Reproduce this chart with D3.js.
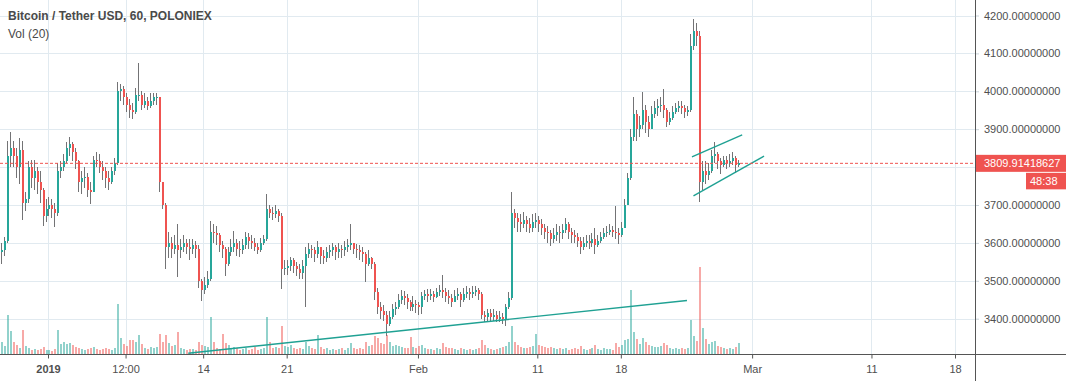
<!DOCTYPE html>
<html>
<head>
<meta charset="utf-8">
<script src="https://cdn.jsdelivr.net/npm/d3@7"></script>
<style>
body { margin: 0; background: #fff; overflow: hidden; }
svg { display: block; font-family: "Liberation Sans", Arial, sans-serif; }
</style>
</head>
<body>
<svg id="chart" width="1066" height="381"></svg>
<script>
// bars are 6h buckets, starting Dec 28 2018 00:00 UTC
var firstBar = Date.UTC(2018, 11, 28);
var barHours = 6;
var firstOpen = 3575;

var closes = [
  3580, 3605, 3830, 3850,  3830, 3800, 3845, 3705,  3715, 3800, 3770, 3790,  3760, 3740, 3670, 3690,
  3700, 3690, 3680, 3790,  3800, 3815, 3850, 3860,  3840, 3815, 3760, 3770,  3775, 3740, 3735, 3820,
  3815, 3800, 3790, 3770,  3760, 3790, 3810, 4000,  4005, 3985, 3965, 3950,  3945, 3990, 3990, 3965,
  3975, 3960, 3975, 3985,  3985, 3760, 3700, 3590,  3600, 3585, 3595, 3580,  3590, 3600, 3590, 3585,
  3595, 3585, 3500, 3475,  3490, 3505, 3630, 3625,  3620, 3595, 3585, 3545,  3575, 3590, 3600, 3585,
  3580, 3595, 3615, 3605,  3600, 3590, 3580, 3600,  3610, 3690, 3680, 3675,  3685, 3670, 3530, 3535,
  3540, 3555, 3540, 3530,  3520, 3540, 3570, 3585,  3580, 3570, 3590, 3565,  3560, 3575, 3580, 3590,
  3575, 3585, 3580, 3590,  3595, 3600, 3585, 3580,  3575, 3570, 3545, 3560,  3545, 3470, 3430, 3420,
  3410, 3385, 3405, 3425,  3430, 3450, 3460, 3455,  3445, 3430, 3440, 3435,  3430, 3460, 3465, 3460,
  3465, 3458, 3470, 3475,  3470, 3460, 3455, 3445,  3460, 3465, 3450, 3465,  3470, 3465, 3470, 3475,
  3465, 3410, 3405, 3415,  3405, 3410, 3400, 3405,  3400, 3430, 3455, 3680,  3665, 3655, 3650, 3660,
  3650, 3640, 3655, 3660,  3650, 3640, 3630, 3625,  3610, 3620, 3630, 3625,  3635, 3650, 3630, 3620,
  3615, 3605, 3590, 3600,  3605, 3600, 3610, 3595,  3605, 3615, 3625, 3630,  3635, 3630, 3625, 3620,
  3640, 3700, 3770, 3880,  3940, 3900, 3910, 3950,  3920, 3900, 3940, 3955,  3960, 3965, 3950, 3920,
  3930, 3945, 3955, 3960,  3955, 3945, 3950, 4120,  4160, 4145, 3760, 3790,  3780, 3790, 3830, 3835,
  3815, 3805, 3820, 3810,  3815, 3825, 3805, 3809.91418627
];
var highs = [
  3600, 3615, 3870, 3893,  3870, 3850, 3878, 3870,  3735, 3815, 3820, 3818,  3800, 3790, 3745, 3715,
  3720, 3715, 3705, 3810,  3815, 3835, 3865, 3880,  3865, 3850, 3820, 3790,  3800, 3785, 3760, 3830,
  3840, 3835, 3815, 3800,  3790, 3800, 3825, 4025,  4020, 4015, 3995, 3980,  3970, 4010, 4075, 4000,
  3995, 3985, 3995, 3995,  3995, 3985, 3750, 3705,  3630, 3615, 3620, 3651,  3610, 3620, 3610, 3610,
  3610, 3606, 3595, 3505,  3510, 3525, 3659, 3650,  3645, 3625, 3605, 3590,  3590, 3610, 3632, 3610,
  3605, 3610, 3630, 3625,  3620, 3612, 3600, 3612,  3620, 3729, 3700, 3695,  3700, 3690, 3680, 3555,
  3555, 3562, 3560, 3550,  3545, 3555, 3590, 3601,  3595, 3590, 3605, 3590,  3580, 3590, 3595, 3600,
  3595, 3600, 3595, 3605,  3610, 3650, 3600, 3598,  3595, 3590, 3575, 3580,  3562, 3550, 3480, 3445,
  3435, 3420, 3420, 3440,  3445, 3465, 3475, 3474,  3465, 3450, 3460, 3450,  3445, 3470, 3475, 3478,
  3478, 3472, 3482, 3490,  3516, 3480, 3475, 3465,  3475, 3480, 3470, 3480,  3485, 3480, 3485, 3487,
  3482, 3470, 3420, 3425,  3425, 3425, 3420, 3420,  3415, 3440, 3470, 3733,  3690, 3680, 3675, 3682,
  3670, 3665, 3675, 3680,  3670, 3662, 3650, 3645,  3635, 3640, 3650, 3645,  3650, 3666, 3655, 3640,
  3635, 3625, 3615, 3615,  3620, 3620, 3625, 3640,  3620, 3630, 3640, 3645,  3650, 3645, 3698, 3640,
  3655, 3715, 3785, 3900,  3986, 3950, 3935, 3997,  3965, 3935, 3960, 3975,  3980, 3985, 4006, 3955,
  3945, 3960, 3970, 3975,  3975, 3965, 3960, 4150,  4191, 4180, 4160, 3817,  3815, 3810, 3845, 3865,
  3840, 3825, 3830, 3830,  3835, 3839, 3830, 3820
];
var lows = [
  3545, 3565, 3600, 3800,  3800, 3770, 3756, 3660,  3685, 3705, 3745, 3740,  3730, 3705, 3645, 3655,
  3670, 3665, 3642, 3670,  3770, 3790, 3810, 3830,  3815, 3795, 3735, 3730,  3745, 3720, 3702, 3735,
  3800, 3785, 3765, 3745,  3739, 3755, 3780, 3805,  3975, 3965, 3945, 3930,  3928, 3940, 3975, 3950,
  3955, 3950, 3955, 3965,  3965, 3735, 3690, 3532,  3560, 3560, 3570, 3510,  3560, 3575, 3570, 3555,
  3570, 3560, 3480, 3447,  3465, 3480, 3500, 3600,  3595, 3575, 3560, 3513,  3540, 3565, 3575, 3565,
  3562, 3570, 3585, 3585,  3585, 3578, 3570, 3575,  3595, 3605, 3665, 3660,  3665, 3655, 3478, 3515,
  3515, 3525, 3520, 3512,  3505, 3505, 3430, 3560,  3560, 3550, 3560, 3545,  3545, 3550, 3560, 3565,
  3555, 3560, 3560, 3565,  3575, 3580, 3570, 3560,  3555, 3550, 3496, 3540,  3530, 3450, 3412, 3400,
  3395, 3355, 3380, 3400,  3410, 3425, 3440, 3435,  3425, 3420, 3420, 3415,  3410, 3412, 3450, 3445,
  3450, 3445, 3455, 3460,  3455, 3445, 3440, 3430,  3445, 3450, 3430, 3445,  3455, 3450, 3455, 3460,
  3450, 3400, 3390, 3395,  3395, 3395, 3390, 3390,  3385, 3381, 3425, 3450,  3640, 3630, 3630, 3640,
  3630, 3625, 3630, 3640,  3630, 3620, 3610, 3600,  3593, 3600, 3605, 3600,  3610, 3625, 3610, 3600,
  3600, 3590, 3571, 3580,  3590, 3585, 3590, 3571,  3590, 3600, 3610, 3615,  3620, 3615, 3610, 3597,
  3615, 3640, 3700, 3765,  3870, 3870, 3880, 3900,  3890, 3879, 3915, 3930,  3935, 3945, 3930, 3905,
  3910, 3925, 3940, 3945,  3940, 3930, 3935, 3945,  4110, 4120, 3707, 3740,  3756, 3765, 3785, 3810,
  3795, 3782, 3800, 3795,  3800, 3805, 3785, 3800
];
var volumes = [
  120, 80, 390, 230,  120, 90, 60, 240,  80, 60, 40, 50,  40, 50, 70, 40,
  40, 30, 50, 240,  100, 120, 100, 110,  90, 70, 60, 50,  40, 50, 60, 70,
  50, 40, 50, 60,  50, 40, 60, 500,  160, 100, 80, 140,  140, 120, 190, 100,
  60, 50, 70, 60,  70, 200, 120, 190,  110, 80, 90, 220,  60, 50, 40, 50,
  50, 40, 120, 90,  80, 70, 370, 120,  60, 50, 200, 110,  90, 60, 70, 60,
  40, 50, 60, 40,  50, 70, 40, 50,  60, 370, 120, 60,  70, 60, 280, 80,
  70, 90, 60, 50,  60, 50, 120, 80,  60, 50, 190, 70,  50, 60, 40, 50,
  40, 50, 60, 40,  60, 110, 60, 50,  60, 50, 120, 80,  90, 180, 160, 110,
  100, 190, 120, 80,  90, 80, 70, 60,  60, 170, 70, 60,  80, 90, 60, 50,
  50, 40, 60, 50,  110, 70, 60, 60,  50, 40, 60, 50,  40, 50, 40, 50,
  60, 140, 90, 60,  50, 40, 50, 60,  70, 80, 120, 280,  120, 90, 70, 60,
  60, 70, 80, 200,  90, 80, 70, 60,  70, 60, 50, 60,  50, 60, 40, 50,
  60, 50, 80, 50,  40, 50, 60, 90,  50, 40, 60, 50,  50, 40, 110, 70,
  90, 140, 150, 640,  220, 150, 100, 160,  120, 90, 80, 70,  70, 80, 110, 90,
  60, 50, 60, 50,  60, 50, 60, 340,  180, 130, 870, 260,  150, 100, 120, 130,
  80, 70, 60, 50,  60, 50, 70, 110
];

var timeTicks = [
  Date.UTC(2019, 0, 1), Date.UTC(2019, 0, 7, 12), Date.UTC(2019, 0, 14), Date.UTC(2019, 0, 21),
  Date.UTC(2019, 1, 1), Date.UTC(2019, 1, 11), Date.UTC(2019, 1, 18),
  Date.UTC(2019, 2, 1), Date.UTC(2019, 2, 11), Date.UTC(2019, 2, 18)
];
var timeTickLabels = ["2019", "12:00", "14", "21", "Feb", "11", "18", "Mar", "11", "18"];
var priceTicks = [3400, 3500, 3600, 3700, 3800, 3900, 4000, 4100, 4200];
var lastPrice = 3809.91418627;
var countdown = "48:38";

// drawn trend lines: [time, price] end points
var trendLines = [
  [[Date.UTC(2019, 0, 12, 18), 3309], [Date.UTC(2019, 1, 23, 13), 3448]],
  [[Date.UTC(2019, 1, 23, 23), 3827], [Date.UTC(2019, 1, 28, 4), 3885]],
  [[Date.UTC(2019, 1, 24, 2), 3724], [Date.UTC(2019, 2, 2, 0), 3829]]
];

var upColor = "#26a69a", downColor = "#ef5350", wickColor = "#737375";
var plotRight = 975, plotBottom = 354.5;

var svg = d3.select("#chart");

var x = d3.scaleUtc()
  .domain([new Date(Date.UTC(2019, 0, 1)), new Date(Date.UTC(2019, 2, 18))])
  .range([48, 955]);
var y = d3.scaleLinear().domain([3400, 4200]).range([318.7, 15.5]);
var v = d3.scaleLinear().domain([0, 870]).range([plotBottom, 267]);

var bars = closes.map(function(c, i) {
  var t = firstBar + i * barHours * 3600e3;
  return {
    mid: new Date(t + barHours * 1800e3),
    o: i ? closes[i - 1] : firstOpen,
    h: highs[i], l: lows[i], c: c, vol: volumes[i]
  };
});

svg.append("defs").append("clipPath").attr("id", "plot")
  .append("rect").attr("width", plotRight).attr("height", plotBottom);

// grid
var grid = svg.append("g").attr("stroke", "#e1eaf0").attr("shape-rendering", "crispEdges");
grid.selectAll(".gx").data(timeTicks).enter().append("line")
  .attr("x1", function(d) { return Math.round(x(d)) + 0.5; })
  .attr("x2", function(d) { return Math.round(x(d)) + 0.5; })
  .attr("y1", 0).attr("y2", plotBottom);
grid.selectAll(".gy").data(priceTicks).enter().append("line")
  .attr("x1", 0).attr("x2", plotRight)
  .attr("y1", function(d) { return Math.round(y(d)) + 0.5; })
  .attr("y2", function(d) { return Math.round(y(d)) + 0.5; });

var plot = svg.append("g").attr("clip-path", "url(#plot)");

// volume
plot.append("g").attr("shape-rendering", "crispEdges")
  .selectAll("rect").data(bars).enter().append("rect")
  .attr("x", function(d) { return Math.round(x(d.mid)) - 1; })
  .attr("width", 2)
  .attr("y", function(d) { return v(d.vol); })
  .attr("height", function(d) { return plotBottom - v(d.vol); })
  .attr("fill", function(d) { return d.c >= d.o ? upColor : downColor; })
  .attr("fill-opacity", 0.5);

// wicks
plot.append("g").attr("stroke", wickColor).attr("shape-rendering", "crispEdges")
  .selectAll("line").data(bars).enter().append("line")
  .attr("x1", function(d) { return Math.round(x(d.mid)) - 0.5; })
  .attr("x2", function(d) { return Math.round(x(d.mid)) - 0.5; })
  .attr("y1", function(d) { return y(Math.max(d.h, d.o, d.c)); })
  .attr("y2", function(d) { return y(Math.min(d.l, d.o, d.c)); });

// bodies
plot.append("g").attr("shape-rendering", "crispEdges")
  .selectAll("rect").data(bars).enter().append("rect")
  .attr("x", function(d) { return Math.round(x(d.mid)) - 1; })
  .attr("width", 2)
  .attr("y", function(d) { return y(Math.max(d.o, d.c)); })
  .attr("height", function(d) { return Math.max(1, Math.abs(y(d.o) - y(d.c))); })
  .attr("fill", function(d) { return d.c >= d.o ? upColor : downColor; });

// last price line
svg.append("line")
  .attr("x1", 0).attr("x2", plotRight + 1)
  .attr("y1", y(lastPrice)).attr("y2", y(lastPrice))
  .attr("stroke", downColor).attr("stroke-dasharray", "3,2");

// trend lines
plot.append("g").selectAll("line").data(trendLines).enter().append("line")
  .attr("x1", function(d) { return x(d[0][0]); })
  .attr("y1", function(d) { return y(d[0][1]); })
  .attr("x2", function(d) { return x(d[1][0]); })
  .attr("y2", function(d) { return y(d[1][1]); })
  .attr("stroke", "#1fa193").attr("stroke-width", 1.4);

// axes
var yAxis = svg.append("g")
  .attr("transform", "translate(" + plotRight + ",0)")
  .call(d3.axisRight(y).tickValues(priceTicks).tickFormat(d3.format(".8f")).tickSize(4).tickPadding(5));
var xAxis = svg.append("g")
  .attr("transform", "translate(0," + plotBottom + ")")
  .call(d3.axisBottom(x).tickValues(timeTicks)
    .tickFormat(function(d, i) { return timeTickLabels[i]; })
    .tickSize(4).tickPadding(7));

[yAxis, xAxis].forEach(function(a) {
  a.select(".domain").remove();
  a.selectAll("text").attr("fill", "#4f4f4f").style("font-size", "11px")
    .style("font-family", "\"Liberation Sans\", Arial, sans-serif");
});
yAxis.selectAll(".tick line").attr("stroke", "#c9d3da");
// the last-price label covers the tick label nearest to it
yAxis.selectAll(".tick").filter(function(d) { return Math.abs(y(d) - y(lastPrice)) < 12; })
  .select("text").remove();
xAxis.selectAll(".tick line").attr("stroke", "#555");
xAxis.selectAll("text").filter(function(d, i) { return i === 0; }).style("font-weight", "bold");

svg.append("line").attr("x1", plotRight + 0.5).attr("x2", plotRight + 0.5)
  .attr("y1", 0).attr("y2", 381).attr("stroke", "#555");
svg.append("line").attr("x1", 0).attr("x2", 1066)
  .attr("y1", plotBottom).attr("y2", plotBottom).attr("stroke", "#555");

// price and countdown labels
var py = y(lastPrice);
svg.append("rect").attr("x", plotRight + 1).attr("y", py - 8.5)
  .attr("width", 1066 - plotRight).attr("height", 17).attr("fill", downColor);
svg.append("text").attr("x", 984).attr("y", py).attr("dy", "0.35em")
  .attr("fill", "#fff").style("font-size", "11px").text(d3.format(".8f")(lastPrice));
svg.append("rect").attr("x", 1026).attr("y", py + 9.5)
  .attr("width", 40).attr("height", 16.5).attr("fill", downColor);
svg.append("text").attr("x", 1030).attr("y", py + 18).attr("dy", "0.35em")
  .attr("fill", "#fff").style("font-size", "11px").text(countdown);

// legend
svg.append("text").attr("x", 8).attr("y", 19.5)
  .attr("fill", "#4a4a4a").style("font-size", "12px").style("font-weight", "bold")
  .text("Bitcoin / Tether USD, 60, POLONIEX");
svg.append("text").attr("x", 8).attr("y", 37.5)
  .attr("fill", "#4a4a4a").style("font-size", "12px")
  .text("Vol (20)");
</script>
</body>
</html>
